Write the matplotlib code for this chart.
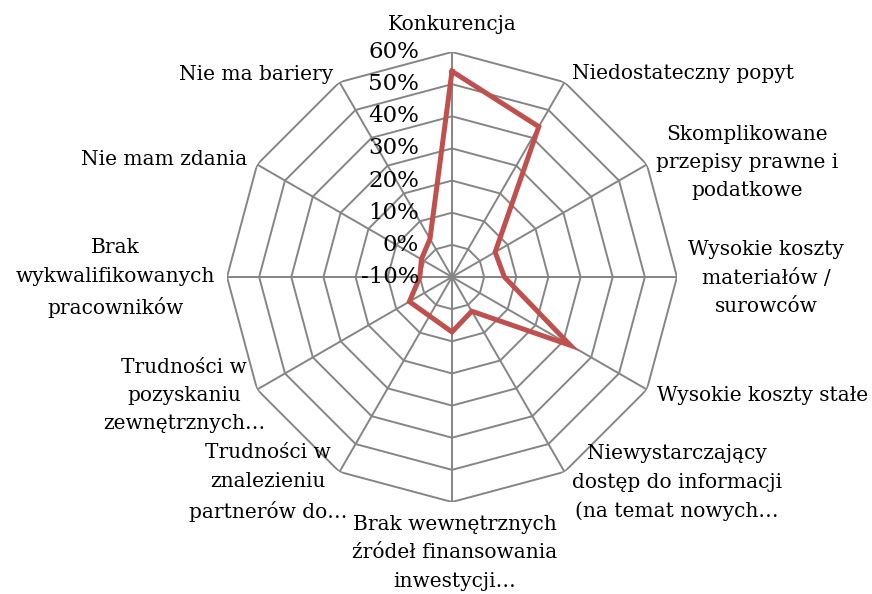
import numpy as np
import matplotlib
matplotlib.use('Agg')
import matplotlib.pyplot as plt

plt.rcParams['font.family'] = ['DejaVu Serif']

# dane
kategorie = [
    'Konkurencja',
    'Niedostateczny popyt',
    'Skomplikowane\nprzepisy prawne i\npodatkowe',
    'Wysokie koszty\nmateriałów /\nsurowców',
    'Wysokie koszty stałe',
    'Niewystarczający\ndostęp do informacji\n(na temat nowych…',
    'Brak wewnętrznych\nźródeł finansowania\ninwestycji…',
    'Trudności w\nznalezieniu\npartnerów do…',
    'Trudności w\npozyskaniu\nzewnętrznych…',
    'Brak\nwykwalifikowanych\npracowników',
    'Nie mam zdania',
    'Nie ma bariery',
]
wartosci = [0.54, 0.44, 0.055, 0.063, 0.325, 0.023, 0.071, 0.04, 0.053, 0.0, 0.01, 0.037]
skala = [-0.1, 0.0, 0.1, 0.2, 0.3, 0.4, 0.5, 0.6]
etykiety_skali = ['-10%', '0%', '10%', '20%', '30%', '40%', '50%', '60%']

n = len(kategorie)
katy = np.linspace(0, 2 * np.pi, n, endpoint=False)
katy_z = np.append(katy, katy[0])

W, H = 872, 594
fig = plt.figure(figsize=(W / 100, H / 100), dpi=100)
cx, cy, R = 452, 277, 225
ax = fig.add_axes([(cx - R) / W, (H - cy - R) / H, 2 * R / W, 2 * R / H], polar=True)
ax.set_theta_zero_location('N')
ax.set_theta_direction(-1)
ax.set_ylim(skala[0], skala[-1])
ax.grid(False)
ax.spines['polar'].set_visible(False)
ax.set_xticks([])
ax.set_yticks([])
ax.patch.set_visible(False)

siatka = '#858585'
for v in skala[1:]:
    ax.plot(katy_z, [v] * (n + 1), color=siatka, lw=1.4, zorder=1)
for a in katy:
    ax.plot([a, a], [skala[0], skala[-1]], color=siatka, lw=1.4, zorder=1)

ax.plot(katy_z, wartosci + wartosci[:1], color='#C0504D', lw=3.6, zorder=3,
        solid_joinstyle='miter')

# etykiety osi wartości
for v, t in zip(skala, etykiety_skali):
    ax.annotate(t, xy=(0, v), xytext=(-33, 0), textcoords='offset pixels',
                ha='right', va='center', fontsize=16.5, color='black', zorder=4)

# etykiety kategorii (przesunięcia w pikselach)
przes = [(0, 27), (7, 9), (9, 2), (11, -1), (10, -6), (7, -11),
         (3, -51), (8, -11), (8, -6), (-12, -1), (-10, 5), (-6, 8)]
for i, (a, t) in enumerate(zip(katy, kategorie)):
    deg = np.degrees(a)
    if deg == 0 or deg == 180:
        ha = 'center'
    elif deg < 180:
        ha = 'left'
    else:
        ha = 'right'
    ax.annotate(t, xy=(a, skala[-1]), xytext=przes[i], textcoords='offset pixels',
                ha=ha, va='center', multialignment='center', fontsize=14.5,
                linespacing=1.63, color='black', annotation_clip=False)

fig.savefig('out.png', dpi=100)
